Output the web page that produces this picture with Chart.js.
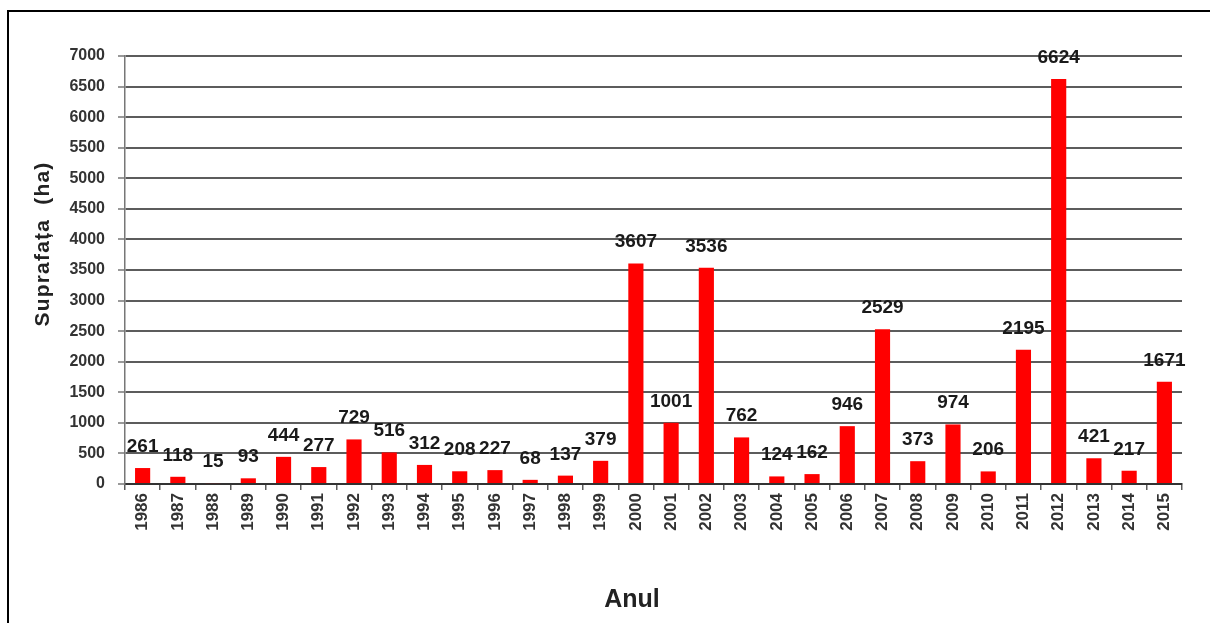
<!DOCTYPE html>
<html>
<head>
<meta charset="utf-8">
<script src="https://cdn.jsdelivr.net/npm/chart.js@4"></script>
<style>
    html, body { margin: 0; padding: 0; background: #fff; overflow: hidden; }
    #wrap { position: relative; width: 1210px; height: 623px; }
    #frame {
        position: absolute; left: 7px; top: 10px; width: 1300px; height: 700px;
        border-left: 2px solid #000; border-top: 2px solid #000; pointer-events: none;
    }
    .axis-title {
        position: absolute; font-family: "Liberation Sans", Arial, sans-serif;
        font-weight: bold; color: #222; white-space: pre;
    }
    #y-title { left: 42px; top: 244px; font-size: 21px; letter-spacing: 1.2px;
        transform: translate(-50%, -50%) rotate(-90deg); }
    #x-title { left: 632px; top: 598px; font-size: 25px; transform: translate(-50%, -50%); }
</style>
</head>
<body>
<div id="wrap">
    <canvas id="chart" width="1210" height="623"></canvas>
    <div id="frame"></div>
    <div id="y-title" class="axis-title">Suprafața  (ha)</div>
    <div id="x-title" class="axis-title">Anul</div>
</div>
<script>
const years = ['1986', '1987', '1988', '1989', '1990', '1991', '1992', '1993', '1994', '1995',
    '1996', '1997', '1998', '1999', '2000', '2001', '2002', '2003', '2004', '2005',
    '2006', '2007', '2008', '2009', '2010', '2011', '2012', '2013', '2014', '2015'];
const surface = [261, 118, 15, 93, 444, 277, 729, 516, 312, 208,
    227, 68, 137, 379, 3607, 1001, 3536, 762, 124, 162,
    946, 2529, 373, 974, 206, 2195, 6624, 421, 217, 1671];
const yMin = 0;
const yMax = 7000;
const yStep = 500;

const fontFamily = '"Liberation Sans", Arial, sans-serif';
const gridColor = '#5c5c5c';

// value labels above each bar
const barLabels = {
    id: 'barLabels',
    afterDatasetsDraw(chart) {
        const ctx = chart.ctx;
        const meta = chart.getDatasetMeta(0);
        ctx.save();
        ctx.font = 'bold 19px ' + fontFamily;
        ctx.fillStyle = '#1a1a1a';
        ctx.textAlign = 'center';
        ctx.textBaseline = 'alphabetic';
        meta.data.forEach((bar, i) => {
            ctx.fillText(String(surface[i]), bar.x, bar.y - 16);
        });
        ctx.restore();
    }
};

const ctx = document.getElementById('chart').getContext('2d');
new Chart(ctx, {
    type: 'bar',
    data: {
        labels: years,
        datasets: [{
            data: surface,
            backgroundColor: '#ff0000',
            borderWidth: 0,
            barPercentage: 0.43,
            categoryPercentage: 1
        }]
    },
    options: {
        responsive: false,
        animation: false,
        devicePixelRatio: 1,
        layout: { padding: { top: 56, right: 28, bottom: 0, left: 0 } },
        plugins: {
            legend: { display: false },
            tooltip: { enabled: false }
        },
        scales: {
            x: {
                grid: {
                    display: true,
                    drawOnChartArea: false,
                    drawTicks: true,
                    tickLength: 6,
                    color: gridColor,
                    lineWidth: 1.5
                },
                border: { display: true, color: '#333', width: 2 },
                ticks: {
                    minRotation: 90,
                    maxRotation: 90,
                    autoSkip: false,
                    padding: 3,
                    color: '#333',
                    font: { family: fontFamily, size: 17, weight: 'bold' }
                },
                afterFit(scale) { scale.height = 139; }
            },
            y: {
                min: yMin,
                max: yMax,
                grid: {
                    color: gridColor,
                    lineWidth: 2,
                    tickLength: 7,
                    tickColor: '#777',
                    tickWidth: 1.5
                },
                border: { display: true, color: '#777', width: 1.5 },
                ticks: {
                    stepSize: yStep,
                    padding: 13,
                    color: '#333',
                    font: { family: fontFamily, size: 16, weight: 'bold' },
                    callback: (v) => String(v)
                },
                afterFit(scale) { scale.width = 125; }
            }
        }
    },
    plugins: [barLabels]
});
</script>
</body>
</html>
